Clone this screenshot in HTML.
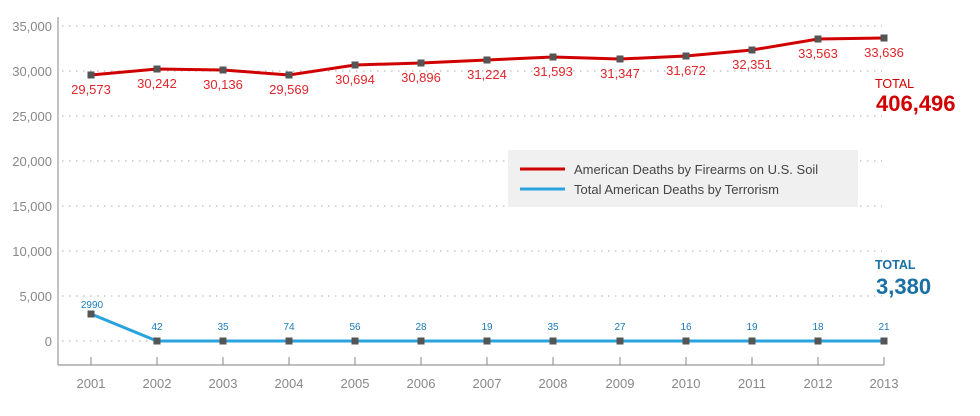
<!DOCTYPE html>
<html><head><meta charset="utf-8"><style>
html,body{margin:0;padding:0;background:#fff;}
svg{display:block;font-family:"Liberation Sans",Arial,sans-serif;}
</style></head><body>
<svg width="980" height="416" viewBox="0 0 980 416">
<g stroke="#bbb" stroke-width="1.2" stroke-dasharray="1.5,5.5">
<line x1="62" y1="26" x2="882" y2="26"/>
<line x1="62" y1="71" x2="882" y2="71"/>
<line x1="62" y1="116" x2="882" y2="116"/>
<line x1="62" y1="161" x2="882" y2="161"/>
<line x1="62" y1="206" x2="882" y2="206"/>
<line x1="62" y1="251" x2="882" y2="251"/>
<line x1="62" y1="296" x2="882" y2="296"/>
<line x1="62" y1="341" x2="882" y2="341"/>
</g>
<g font-size="13" fill="#888" text-anchor="end">
<text x="52" y="31">35,000</text><text x="52" y="76">30,000</text><text x="52" y="121">25,000</text>
<text x="52" y="166">20,000</text><text x="52" y="211">15,000</text><text x="52" y="256">10,000</text>
<text x="52" y="301">5,000</text><text x="52" y="346">0</text>
</g>
<g stroke="#999" stroke-width="1.2" fill="none">
<line x1="58" y1="17" x2="58" y2="365"/>
<line x1="58" y1="365" x2="884" y2="365"/>
<path d="M91 357V365M157 357V365M223 357V365M289 357V365M355 357V365M421 357V365M487 357V365M553 357V365M620 357V365M686 357V365M752 357V365M818 357V365M884 357V365"/>
</g>
<g font-size="13" fill="#888" text-anchor="middle">
<text x="91" y="388">2001</text><text x="157" y="388">2002</text><text x="223" y="388">2003</text><text x="289" y="388">2004</text><text x="355" y="388">2005</text><text x="421" y="388">2006</text><text x="487" y="388">2007</text><text x="553" y="388">2008</text><text x="620" y="388">2009</text><text x="686" y="388">2010</text><text x="752" y="388">2011</text><text x="818" y="388">2012</text><text x="884" y="388">2013</text>
</g>
<rect x="508" y="150" width="350" height="57" fill="#f0f0f0"/>
<line x1="520" y1="169" x2="565" y2="169" stroke="#d10000" stroke-width="3"/>
<line x1="520" y1="189" x2="565" y2="189" stroke="#29a3dd" stroke-width="3"/>
<text x="574" y="174" font-size="13" fill="#444">American Deaths by Firearms on U.S. Soil</text>
<text x="574" y="194" font-size="13" fill="#444">Total American Deaths by Terrorism</text>
<polyline fill="none" stroke="#d10000" stroke-width="3" points="91,75 157,69 223,70 289,75 355,65 421,63 487,60 553,57 620,59 686,56 752,50 818,39 884,38"/>
<polyline fill="none" stroke="#29a3dd" stroke-width="3" points="91,314 157,341 223,341 289,341 355,341 421,341 487,341 553,341 620,341 686,341 752,341 818,341 884,341"/>
<g fill="#555">
<rect x="87.5" y="71.5" width="7" height="7"/><rect x="153.5" y="65.5" width="7" height="7"/><rect x="219.5" y="66.5" width="7" height="7"/><rect x="285.5" y="71.5" width="7" height="7"/><rect x="351.5" y="61.5" width="7" height="7"/><rect x="417.5" y="59.5" width="7" height="7"/><rect x="483.5" y="56.5" width="7" height="7"/><rect x="549.5" y="53.5" width="7" height="7"/><rect x="616.5" y="55.5" width="7" height="7"/><rect x="682.5" y="52.5" width="7" height="7"/><rect x="748.5" y="46.5" width="7" height="7"/><rect x="814.5" y="35.5" width="7" height="7"/><rect x="880.5" y="34.5" width="7" height="7"/>
<rect x="87.5" y="310.5" width="7" height="7"/><rect x="153.5" y="337.5" width="7" height="7"/><rect x="219.5" y="337.5" width="7" height="7"/><rect x="285.5" y="337.5" width="7" height="7"/><rect x="351.5" y="337.5" width="7" height="7"/><rect x="417.5" y="337.5" width="7" height="7"/><rect x="483.5" y="337.5" width="7" height="7"/><rect x="549.5" y="337.5" width="7" height="7"/><rect x="616.5" y="337.5" width="7" height="7"/><rect x="682.5" y="337.5" width="7" height="7"/><rect x="748.5" y="337.5" width="7" height="7"/><rect x="814.5" y="337.5" width="7" height="7"/><rect x="880.5" y="337.5" width="7" height="7"/>
</g>
<g font-size="13" fill="#e0262b" text-anchor="middle">
<text x="91" y="94">29,573</text><text x="157" y="88">30,242</text><text x="223" y="89">30,136</text><text x="289" y="94">29,569</text><text x="355" y="84">30,694</text><text x="421" y="82">30,896</text><text x="487" y="79">31,224</text><text x="553" y="76">31,593</text><text x="620" y="78">31,347</text><text x="686" y="75">31,672</text><text x="752" y="69">32,351</text><text x="818" y="58">33,563</text><text x="884" y="57">33,636</text>
</g>
<g font-size="10" fill="#1a7ab8" text-anchor="middle">
<text x="92" y="308">2990</text><text x="157" y="330">42</text><text x="223" y="330">35</text><text x="289" y="330">74</text><text x="355" y="330">56</text><text x="421" y="330">28</text><text x="487" y="330">19</text><text x="553" y="330">35</text><text x="620" y="330">27</text><text x="686" y="330">16</text><text x="752" y="330">19</text><text x="818" y="330">18</text><text x="884" y="330">21</text>
</g>
<text x="875" y="88" font-size="12.5" fill="#d10000">TOTAL</text>
<text x="876" y="111" font-size="22" font-weight="bold" fill="#d10000">406,496</text>
<text x="875" y="269" font-size="12.5" font-weight="bold" fill="#1a6fa3">TOTAL</text>
<text x="876" y="294" font-size="22" font-weight="bold" fill="#1a6fa3">3,380</text>
</svg>
</body></html>
